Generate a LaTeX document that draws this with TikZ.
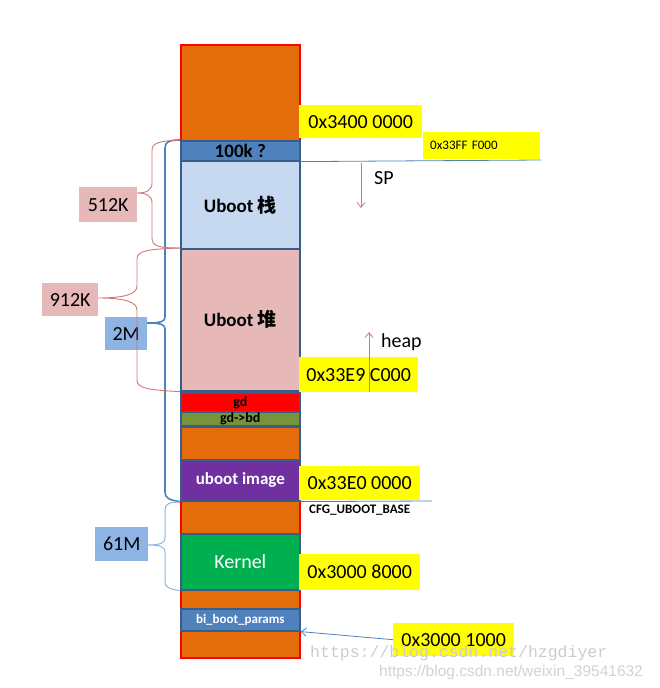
\documentclass[tikz,border=0pt]{standalone}
\usepackage{fontspec}
\setmainfont{Carlito}
\setsansfont{Liberation Sans}
\setmonofont{Liberation Mono}
\newfontfamily\cjk{Noto Sans CJK SC}
\usetikzlibrary{arrows.meta,calc,positioning}
\definecolor{memorange}{HTML}{E46C0A}
\definecolor{segedge}{HTML}{385D8A}
\definecolor{segblue}{HTML}{4F81BD}
\definecolor{stackblue}{HTML}{C6D9F1}
\definecolor{heappink}{HTML}{E6B9B8}
\definecolor{bdolive}{HTML}{77933C}
\definecolor{imgpurple}{HTML}{7030A0}
\definecolor{kerngreen}{HTML}{00B050}
\definecolor{sizeblue}{HTML}{8EB4E3}
\definecolor{bracered}{HTML}{D07874}
\definecolor{memyellow}{HTML}{FFFF00}

\begin{document}
\begin{tikzpicture}[x=1pt,y=-1pt,
    seg/.style={draw=segedge,line width=1.6pt,minimum width=119pt,inner sep=0pt,
      anchor=north west,font=\bfseries\fontsize{19}{19}\selectfont},
    addr/.style={fill=memyellow,inner sep=0pt,anchor=north west,font=\fontsize{20}{20}\selectfont},
    sizebox/.style={inner sep=0pt,anchor=north west,font=\fontsize{20}{20}\selectfont},
    txt/.style={inner sep=0pt,anchor=west},
    redbrace/.style={draw=bracered,line width=0.9pt},
    bluebrace/.style={draw=segblue,line width=1.6pt},
    thinline/.style={draw=segblue,line width=0.8pt},
    pointer/.style={draw=bracered,line width=0.8pt,-{Straight Barb[length=5pt,width=8pt]}}]
    \useasboundingbox (0,0) rectangle (659,688);
    % memory column
    \node[draw=red,fill=memorange,line width=1.6pt,minimum width=119pt,minimum height=613pt,
      inner sep=0pt,anchor=north west] (column) at (180,44) {};
    \node[seg,fill=segblue,minimum height=20pt] (k100) at (180,140) {100k ?};
    \node[seg,fill=stackblue,minimum height=88pt] (stack) at (180,160) {Uboot {\cjk 栈}};
    \node[seg,fill=heappink,minimum height=142pt] (heap) at (180,248) {Uboot {\cjk 堆}};
    \node[seg,fill=red,minimum height=19pt,font=\bfseries\fontsize{14}{14}\selectfont] (gd) at (180,392) {gd};
    \node[seg,fill=bdolive,minimum height=14pt,font=\bfseries\fontsize{14}{14}\selectfont] (bd) at (180,411) {gd->bd};
    \node[seg,fill=memorange,minimum height=33pt] (gap) at (180,426) {};
    \node[seg,fill=imgpurple,minimum height=41pt,text=white,font=\bfseries\fontsize{17}{17}\selectfont] (image) at (180,459) {uboot image};
    \node[seg,fill=kerngreen,minimum height=56pt,text=white,font=\fontsize{20}{20}\selectfont] (kernel) at (180,533) {Kernel};
    \node[seg,fill=segblue,minimum height=22pt,text=white,font=\bfseries\fontsize{13}{13}\selectfont] (params) at (180,608) {bi\_boot\_params};

    % addresses on the right
    \node[addr,minimum width=123pt,minimum height=33pt] (a3400) at (299,105) {0x3400 0000};
    \node[addr,minimum height=27pt,text width=103pt,inner xsep=7pt,align=left,
      font=\fontsize{13}{13}\selectfont] (a33ff) at (423,132) {0x33FF F000};
    \coordinate (spend) at (541,160);
    \draw[thinline] (k100.south east) -- (spend);
    \coordinate (sptop) at (361,163);
    \coordinate (spbot) at (361,208);
    \draw[pointer] (sptop) -- (spbot);
    \node[txt,font=\fontsize{20}{20}\selectfont] (sp) at (374,178) {SP};
    \node[addr,minimum width=119pt,minimum height=35pt] (a33e9) at (299,357) {0x33E9 C000};
    \coordinate (heapbot) at (369,392);
    \coordinate (heaptop) at (369,332);
    \draw[pointer] (heapbot) -- (heaptop);
    \node[txt,font=\fontsize{20}{20}\selectfont] (heaplbl) at (381,342) {heap};
    \node[addr,minimum width=121pt,minimum height=34pt] (a33e0) at (299,466) {0x33E0 0000};
    \coordinate (baseend) at (432,501);
    \draw[thinline] (image.south east) -- (baseend);
    \node[txt,font=\bfseries\fontsize{13}{13}\selectfont] (cfgbase) at (309,510) {CFG\_UBOOT\_BASE};
    \node[addr,minimum width=121pt,minimum height=36pt] (a30008) at (299,554) {0x3000 8000};
    \node[addr,minimum width=121pt,minimum height=33pt] (a30001) at (393,623) {0x3000 1000};
    \draw[thinline,-{Straight Barb[length=5pt,width=8pt]}] (a30001.west) -- (params.south east);

    % sizes on the left
    \node[sizebox,fill=sizeblue,minimum width=42pt,minimum height=33pt] (s2m) at (105,317) {2M};
    \node[sizebox,fill=heappink,minimum width=58pt,minimum height=35pt] (s512) at (79,187) {512K};
    \node[sizebox,fill=heappink,minimum width=56pt,minimum height=33pt] (s912) at (42,283) {912K};
    \node[sizebox,fill=sizeblue,minimum width=53pt,minimum height=34pt] (s61m) at (95,527) {61M};
    \draw[bluebrace] (k100.north west) .. controls (169,140) and (165,142) .. (165,148)
      -- (165,317) .. controls (165,321) and (162,323) .. (147,323)
      .. controls (162,323) and (165,325) .. (165,329)
      -- (165,492) .. controls (165,498) and (169,500) .. (image.south west);
    \draw[redbrace] (k100.north west) .. controls (158,141) and (152,143) .. (152,151)
      -- (152,183) .. controls (152,190) and (147,193) .. (137,193)
      .. controls (147,193) and (152,196) .. (152,203)
      -- (152,238) .. controls (152,246) and (158,248) .. (heap.north west);
    \draw[redbrace] (heap.north west) .. controls (147,249) and (137,251) .. (137,259)
      -- (137,286) .. controls (137,294) and (125,298) .. (98,298)
      .. controls (125,298) and (137,302) .. (137,310)
      -- (137,380) .. controls (137,388) and (147,390) .. (heap.south west);
    \draw[draw=sizeblue,line width=1pt] (180,502) .. controls (169,502) and (165,504) .. (165,510)
      -- (165,538) .. controls (165,543) and (160,545) .. (148,545)
      .. controls (160,545) and (165,547) .. (165,552)
      -- (165,582) .. controls (165,587) and (169,589) .. (kernel.south west);

    % watermarks
    \node[txt,text=gray!40,font=\ttfamily\fontsize{16.5}{16.5}\selectfont] (wm1) at (310,653) {https://blog.csdn.net/hzgdiyer};
    \node[txt,text=gray!35,font=\sffamily\fontsize{15.5}{15.5}\selectfont] (wm2) at (379,672) {https://blog.csdn.net/weixin\_39541632};
  \end{tikzpicture}
\end{document}
